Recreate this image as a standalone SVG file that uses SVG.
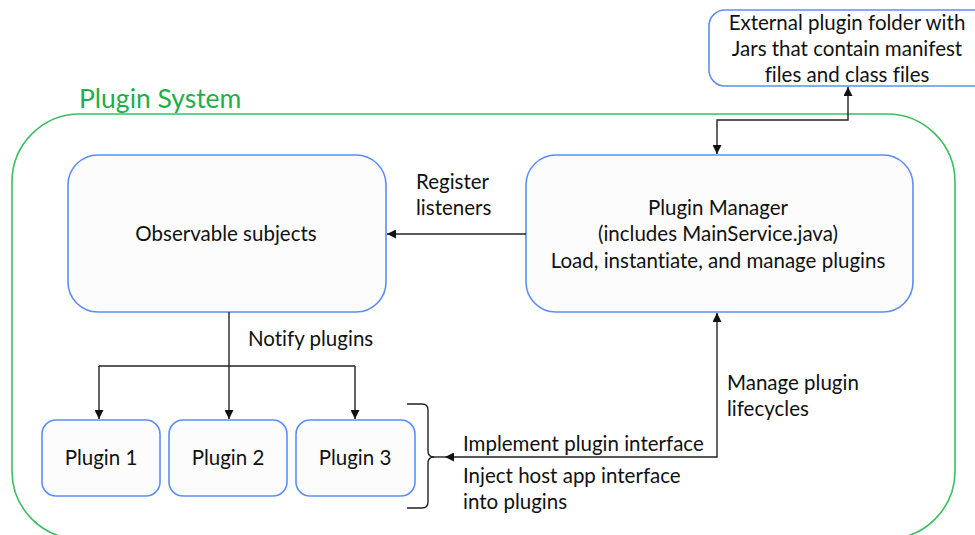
<svg xmlns="http://www.w3.org/2000/svg" width="975" height="535" viewBox="0 0 975 535">
  <defs>
    <marker id="arrow" viewBox="0 0 10 10" refX="10" refY="5" markerWidth="9" markerHeight="9" markerUnits="userSpaceOnUse" orient="auto-start-reverse">
      <path d="M0,0 L10,5 L0,10 z" fill="#111"/>
    </marker>
    <style>
      .node { fill: #fcfcfc; stroke: #5a8ef5; stroke-width: 1.6; }
      .ext { fill: #ffffff; stroke: #5a8ef5; stroke-width: 1.6; }
      .system { fill: none; stroke: #3cbf62; stroke-width: 1.6; }
      .label { font-family: Lato, "Liberation Sans", sans-serif; font-size: 20.5px; fill: #111; font-variant-ligatures: none; }
      .mid { text-anchor: middle; }
      .title { font-family: Lato, "Liberation Sans", sans-serif; font-size: 26.5px; fill: #1fae4b; }
      .wire { fill: none; stroke: #222; stroke-width: 1.4; }
    </style>
  </defs>

  <rect width="975" height="535" fill="#ffffff"/>

  <!-- Plugin System container -->
  <g id="plugin-system">
    <rect class="system" x="12" y="114" width="943" height="425" rx="68" ry="68"/>
    <text class="title" x="79" y="108">Plugin System</text>
  </g>

  <!-- External plugin folder -->
  <g id="external-folder">
    <rect class="ext" x="709" y="10" width="290" height="76" rx="16" ry="16"/>
    <text class="label mid" x="847" y="30">External plugin folder with</text>
    <text class="label mid" x="847" y="56">Jars that contain manifest</text>
    <text class="label mid" x="847" y="82">files and class files</text>
  </g>

  <!-- Observable subjects -->
  <g id="observable-subjects">
    <rect class="node" x="68" y="155" width="318" height="157" rx="30" ry="30"/>
    <text class="label mid" x="226" y="241">Observable subjects</text>
  </g>

  <!-- Plugin Manager -->
  <g id="plugin-manager">
    <rect class="node" x="526" y="155" width="387" height="157" rx="30" ry="30"/>
    <text class="label mid" x="718" y="215">Plugin Manager</text>
    <text class="label mid" x="718" y="241">(includes MainService.java)</text>
    <text class="label mid" x="718" y="268">Load, instantiate, and manage plugins</text>
  </g>

  <!-- Plugins -->
  <g id="plugin-1">
    <rect class="node" x="42" y="420" width="118" height="76" rx="14" ry="14"/>
    <text class="label mid" x="101" y="465">Plugin 1</text>
  </g>
  <g id="plugin-2">
    <rect class="node" x="169" y="420" width="118" height="76" rx="14" ry="14"/>
    <text class="label mid" x="228" y="465">Plugin 2</text>
  </g>
  <g id="plugin-3">
    <rect class="node" x="296" y="420" width="119" height="76" rx="14" ry="14"/>
    <text class="label mid" x="355" y="465">Plugin 3</text>
  </g>

  <!-- Connectors -->
  <g id="connectors">
    <!-- Plugin Manager <-> external folder -->
    <path class="wire" d="M717,154 L717,120 L848,120 L848,87" marker-start="url(#arrow)" marker-end="url(#arrow)"/>
    <!-- Register listeners -->
    <path class="wire" d="M526,234 L387,234" marker-end="url(#arrow)"/>
    <!-- Notify plugins -->
    <path class="wire" d="M229,312 L229,419" marker-end="url(#arrow)"/>
    <path class="wire" d="M99,366 L355,366"/>
    <path class="wire" d="M99,366 L99,419" marker-end="url(#arrow)"/>
    <path class="wire" d="M355,366 L355,419" marker-end="url(#arrow)"/>
    <!-- Manage plugin lifecycles / implement plugin interface -->
    <path class="wire" d="M717,313 L717,457 L445,457" marker-start="url(#arrow)" marker-end="url(#arrow)"/>
    <path class="wire" d="M445,457 L432,457"/>
    <!-- Brace grouping the plugins -->
    <path class="wire" d="M407,404 L422,404 Q428,404 428,410 L428,451 Q428,457 434,457 Q428,457 428,463 L428,502 Q428,508 422,508 L407,508"/>
  </g>

  <!-- Connector labels -->
  <g id="labels">
    <text class="label" x="416" y="189">Register</text>
    <text class="label" x="416" y="215">listeners</text>
    <text class="label" x="248" y="346">Notify plugins</text>
    <text class="label" x="727" y="390">Manage plugin</text>
    <text class="label" x="727" y="416">lifecycles</text>
    <text class="label" x="463" y="451">Implement plugin interface</text>
    <text class="label" x="463" y="483">Inject host app interface</text>
    <text class="label" x="463" y="509">into plugins</text>
  </g>
</svg>
